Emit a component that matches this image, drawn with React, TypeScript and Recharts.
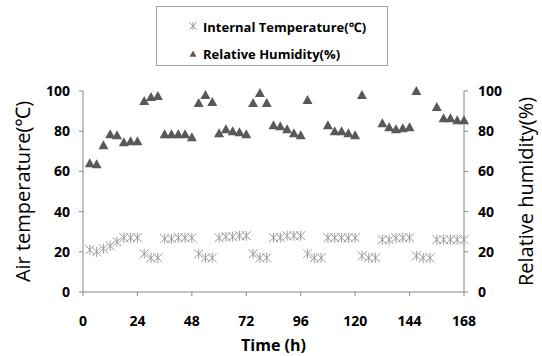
import React from 'react';
import { ScatterChart, Scatter, XAxis, YAxis } from 'recharts';

// sampling times (h)
const hours = [
  3, 6, 9, 12, 15, 18, 21, 24, 27, 30, 33, 36, 39, 42, 45, 48, 51, 54, 57, 60,
  63, 66, 69, 72, 75, 78, 81, 84, 87, 90, 93, 96, 99, 102, 105, 108, 111, 114,
  117, 120, 123, 126, 129, 132, 135, 138, 141, 144, 147, 150, 153, 156, 159,
  162, 165, 168,
];

// internal temperature (℃)
const tempValues = [
  21, 20, 21.5, 23, 25, 27, 27, 27, 19, 17, 17, 26.5, 26.5, 27, 27, 27, 19, 17,
  17, 27, 27.5, 27.5, 28, 28, 19, 17, 17, 27, 27, 28, 28, 28, 19, 17, 17, 27,
  27, 27, 27, 27, 18, 17, 17, 26, 26, 27, 27, 27, 18, 17, 17, 26, 26, 26, 26, 26,
];

// relative humidity (%), null = not shown
const rhValues: (number | null)[] = [
  64, 63.5, 73, 78.5, 78, 74.5, 75, 75, 95, 97, 97.5, 78.5, 78.5, 78.5, 78.5,
  77, 94, 98, 94.5, 79, 81, 80, 79.5, 78.5, 94, 99, 94, 83, 82.5, 81, 79, 78,
  95.5, null, null, 83, 80, 80, 79, 78, 98, null, null, 84, 82, 81, 81.5, 82,
  100, null, null, 92, 86.5, 86.5, 85.5, 85.5,
];

const xTicks = [0, 24, 48, 72, 96, 120, 144, 168];
const yTicks = [0, 20, 40, 60, 80, 100];

const tempPoints = hours.map((t, i) => ({ t, v: tempValues[i] }));
const rhPoints = hours
  .map((t, i) => ({ t, v: rhValues[i] }))
  .filter((p) => p.v !== null);

const FONT = '"Open Sans", "Noto Sans", sans-serif';
const AXIS_COLOR = '#868686';
const STAR_COLOR = '#9a9a9a';
const TRI_COLOR = '#595959';

const Asterisk = ({ cx, cy, r = 5 }: { cx: number; cy: number; r?: number }) => {
  const d = r * 0.9;
  return (
    <g stroke={STAR_COLOR} strokeWidth={1}>
      <line x1={cx} y1={cy - r} x2={cx} y2={cy + r} />
      <line x1={cx - d} y1={cy - d} x2={cx + d} y2={cy + d} />
      <line x1={cx - d} y1={cy + d} x2={cx + d} y2={cy - d} />
    </g>
  );
};

const Triangle = ({ cx, cy, s = 5 }: { cx: number; cy: number; s?: number }) => (
  <polygon
    points={`${cx},${cy - s} ${cx + s},${cy + s * 0.8} ${cx - s},${cy + s * 0.8}`}
    fill={TRI_COLOR}
  />
);

// rotated axis title, placed at a fixed horizontal centre
const AxisTitle = (props: any) => {
  const { viewBox, text, posX } = props;
  const cy = viewBox.y + viewBox.height / 2;
  return (
    <text
      x={posX}
      y={cy}
      transform={`rotate(-90 ${posX} ${cy})`}
      textAnchor="middle"
      dominantBaseline="central"
      fontFamily={FONT}
      fontSize={20}
      fill="#000"
    >
      {text}
    </text>
  );
};

const XTitle = (props: any) => {
  const { viewBox, text } = props;
  const cx = viewBox.x + viewBox.width / 2;
  return (
    <text
      x={cx}
      y={345}
      textAnchor="middle"
      dominantBaseline="central"
      fontFamily={FONT}
      fontSize={16}
      fontWeight={700}
      fill="#000"
    >
      {text}
    </text>
  );
};

const tickStyle = { fontFamily: FONT, fontSize: 14, fontWeight: 700, fill: '#000' };

const App: React.FC = () => {
  return (
    <div style={{ position: 'absolute', left: 0, top: 0, width: 542, height: 356, background: '#fff' }}>
      <ScatterChart width={542} height={356} margin={{ top: 91, right: 0, bottom: 0, left: 0 }}>
        <XAxis
          dataKey="t"
          type="number"
          domain={[0, 168]}
          ticks={xTicks}
          height={64}
          stroke={AXIS_COLOR}
          tickSize={4}
          tickMargin={20}
          tick={tickStyle}
          label={<XTitle text="Time (h)" />}
        />
        <YAxis
          yAxisId="left"
          dataKey="v"
          type="number"
          domain={[0, 100]}
          ticks={yTicks}
          width={83}
          stroke={AXIS_COLOR}
          tickSize={4}
          tickMargin={9}
          tick={tickStyle}
          label={<AxisTitle text="Air temperature(℃)" posX={22} />}
        />
        <YAxis
          yAxisId="right"
          orientation="right"
          dataKey="v"
          type="number"
          domain={[0, 100]}
          ticks={yTicks}
          width={78}
          stroke={AXIS_COLOR}
          tickSize={4}
          tickMargin={10}
          tick={tickStyle}
          label={<AxisTitle text="Relative humidity(%)" posX={525} />}
        />
        <Scatter
          name="Internal Temperature(℃)"
          yAxisId="left"
          data={tempPoints}
          isAnimationActive={false}
          shape={(p: any) => <Asterisk cx={p.cx} cy={p.cy} />}
        />
        <Scatter
          name="Relative Humidity(%)"
          yAxisId="right"
          data={rhPoints}
          isAnimationActive={false}
          shape={(p: any) => <Triangle cx={p.cx} cy={p.cy} />}
        />
      </ScatterChart>
      <div
        style={{
          position: 'absolute',
          left: 156,
          top: 6,
          width: 230,
          height: 58,
          border: '1px solid #a6a6a6',
          background: '#fff',
          fontFamily: FONT,
          fontSize: 13,
          fontWeight: 700,
          color: '#000',
        }}
      >
        <div style={{ position: 'absolute', left: 30, top: 11, display: 'flex', alignItems: 'center' }}>
          <svg width={12} height={12} style={{ marginRight: 4 }}>
            <Asterisk cx={6} cy={5} r={4} />
          </svg>
          <span>Internal Temperature(℃)</span>
        </div>
        <div style={{ position: 'absolute', left: 30, top: 38, display: 'flex', alignItems: 'center' }}>
          <svg width={12} height={12} style={{ marginRight: 4 }}>
            <Triangle cx={6} cy={6} s={3.5} />
          </svg>
          <span>Relative Humidity(%)</span>
        </div>
      </div>
    </div>
  );
};

export default App;
